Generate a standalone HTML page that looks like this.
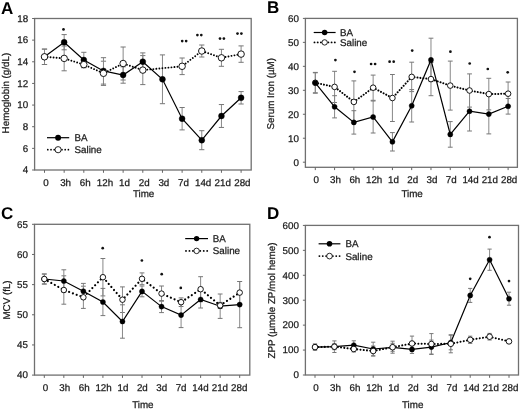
<!DOCTYPE html>
<html><head><meta charset="utf-8"><style>
html,body{margin:0;padding:0;background:#fff;width:520px;height:410px;overflow:hidden}
svg{display:block;text-rendering:geometricPrecision;filter:grayscale(1) blur(0.2px)}
.t{font-family:"Liberation Sans", sans-serif;font-size:9.8px;fill:#1a1a1a;stroke:#1a1a1a;stroke-width:0.25px}
.s{font-family:"Liberation Sans", sans-serif;font-size:10px;fill:#1a1a1a}
.L{font-family:"Liberation Sans", sans-serif;font-size:17px;font-weight:bold;fill:#000}
</style></head><body>
<svg width="520" height="410" viewBox="0 0 520 410">
<rect x="34.6" y="18.5" width="216.6" height="151.5" fill="none" stroke="#707070" stroke-width="1.3"/>
<line x1="32.1" y1="170.0" x2="34.6" y2="170.0" stroke="#666" stroke-width="1"/>
<text x="28.1" y="173.3" text-anchor="end" class="t">4</text>
<line x1="32.1" y1="148.36" x2="34.6" y2="148.36" stroke="#666" stroke-width="1"/>
<text x="28.1" y="151.66" text-anchor="end" class="t">6</text>
<line x1="32.1" y1="126.71" x2="34.6" y2="126.71" stroke="#666" stroke-width="1"/>
<text x="28.1" y="130.01" text-anchor="end" class="t">8</text>
<line x1="32.1" y1="105.07" x2="34.6" y2="105.07" stroke="#666" stroke-width="1"/>
<text x="28.1" y="108.37" text-anchor="end" class="t">10</text>
<line x1="32.1" y1="83.43" x2="34.6" y2="83.43" stroke="#666" stroke-width="1"/>
<text x="28.1" y="86.73" text-anchor="end" class="t">12</text>
<line x1="32.1" y1="61.79" x2="34.6" y2="61.79" stroke="#666" stroke-width="1"/>
<text x="28.1" y="65.09" text-anchor="end" class="t">14</text>
<line x1="32.1" y1="40.14" x2="34.6" y2="40.14" stroke="#666" stroke-width="1"/>
<text x="28.1" y="43.44" text-anchor="end" class="t">16</text>
<line x1="32.1" y1="18.5" x2="34.6" y2="18.5" stroke="#666" stroke-width="1"/>
<text x="28.1" y="21.8" text-anchor="end" class="t">18</text>
<line x1="44.5" y1="170.0" x2="44.5" y2="172.8" stroke="#666" stroke-width="1"/>
<text x="46.0" y="186.0" text-anchor="middle" class="t">0</text>
<line x1="64.16" y1="170.0" x2="64.16" y2="172.8" stroke="#666" stroke-width="1"/>
<text x="65.64" y="186.0" text-anchor="middle" class="t">3h</text>
<line x1="83.82" y1="170.0" x2="83.82" y2="172.8" stroke="#666" stroke-width="1"/>
<text x="85.28" y="186.0" text-anchor="middle" class="t">6h</text>
<line x1="103.48" y1="170.0" x2="103.48" y2="172.8" stroke="#666" stroke-width="1"/>
<text x="104.92" y="186.0" text-anchor="middle" class="t">12h</text>
<line x1="123.14" y1="170.0" x2="123.14" y2="172.8" stroke="#666" stroke-width="1"/>
<text x="124.56" y="186.0" text-anchor="middle" class="t">1d</text>
<line x1="142.8" y1="170.0" x2="142.8" y2="172.8" stroke="#666" stroke-width="1"/>
<text x="144.2" y="186.0" text-anchor="middle" class="t">2d</text>
<line x1="162.46" y1="170.0" x2="162.46" y2="172.8" stroke="#666" stroke-width="1"/>
<text x="163.84" y="186.0" text-anchor="middle" class="t">3d</text>
<line x1="182.12" y1="170.0" x2="182.12" y2="172.8" stroke="#666" stroke-width="1"/>
<text x="183.48" y="186.0" text-anchor="middle" class="t">7d</text>
<line x1="201.78" y1="170.0" x2="201.78" y2="172.8" stroke="#666" stroke-width="1"/>
<text x="203.12" y="186.0" text-anchor="middle" class="t">14d</text>
<line x1="221.44" y1="170.0" x2="221.44" y2="172.8" stroke="#666" stroke-width="1"/>
<text x="222.76" y="186.0" text-anchor="middle" class="t">21d</text>
<line x1="241.1" y1="170.0" x2="241.1" y2="172.8" stroke="#666" stroke-width="1"/>
<text x="242.4" y="186.0" text-anchor="middle" class="t">28d</text>
<text x="143.6" y="197.2" text-anchor="middle" class="t">Time</text>
<text transform="translate(8.6,93.1) rotate(-90)" text-anchor="middle" class="t">Hemoglobin (g/dL)</text>
<text x="1.0" y="13.5" class="L">A</text>
<rect x="305.4" y="18.4" width="212.0" height="148.9" fill="none" stroke="#707070" stroke-width="1.3"/>
<line x1="302.9" y1="162.2" x2="305.4" y2="162.2" stroke="#666" stroke-width="1"/>
<text x="298.9" y="165.5" text-anchor="end" class="t">0</text>
<line x1="302.9" y1="138.23" x2="305.4" y2="138.23" stroke="#666" stroke-width="1"/>
<text x="298.9" y="141.53" text-anchor="end" class="t">10</text>
<line x1="302.9" y1="114.27" x2="305.4" y2="114.27" stroke="#666" stroke-width="1"/>
<text x="298.9" y="117.57" text-anchor="end" class="t">20</text>
<line x1="302.9" y1="90.3" x2="305.4" y2="90.3" stroke="#666" stroke-width="1"/>
<text x="298.9" y="93.6" text-anchor="end" class="t">30</text>
<line x1="302.9" y1="66.33" x2="305.4" y2="66.33" stroke="#666" stroke-width="1"/>
<text x="298.9" y="69.63" text-anchor="end" class="t">40</text>
<line x1="302.9" y1="42.37" x2="305.4" y2="42.37" stroke="#666" stroke-width="1"/>
<text x="298.9" y="45.67" text-anchor="end" class="t">50</text>
<line x1="302.9" y1="18.4" x2="305.4" y2="18.4" stroke="#666" stroke-width="1"/>
<text x="298.9" y="21.7" text-anchor="end" class="t">60</text>
<line x1="315.3" y1="167.3" x2="315.3" y2="170.1" stroke="#666" stroke-width="1"/>
<text x="316.25" y="183.0" text-anchor="middle" class="t">0</text>
<line x1="334.58" y1="167.3" x2="334.58" y2="170.1" stroke="#666" stroke-width="1"/>
<text x="335.54" y="183.0" text-anchor="middle" class="t">3h</text>
<line x1="353.86" y1="167.3" x2="353.86" y2="170.1" stroke="#666" stroke-width="1"/>
<text x="354.83" y="183.0" text-anchor="middle" class="t">6h</text>
<line x1="373.14" y1="167.3" x2="373.14" y2="170.1" stroke="#666" stroke-width="1"/>
<text x="374.12" y="183.0" text-anchor="middle" class="t">12h</text>
<line x1="392.42" y1="167.3" x2="392.42" y2="170.1" stroke="#666" stroke-width="1"/>
<text x="393.41" y="183.0" text-anchor="middle" class="t">1d</text>
<line x1="411.7" y1="167.3" x2="411.7" y2="170.1" stroke="#666" stroke-width="1"/>
<text x="412.7" y="183.0" text-anchor="middle" class="t">2d</text>
<line x1="430.98" y1="167.3" x2="430.98" y2="170.1" stroke="#666" stroke-width="1"/>
<text x="431.99" y="183.0" text-anchor="middle" class="t">3d</text>
<line x1="450.26" y1="167.3" x2="450.26" y2="170.1" stroke="#666" stroke-width="1"/>
<text x="451.28" y="183.0" text-anchor="middle" class="t">7d</text>
<line x1="469.54" y1="167.3" x2="469.54" y2="170.1" stroke="#666" stroke-width="1"/>
<text x="470.57" y="183.0" text-anchor="middle" class="t">14d</text>
<line x1="488.82" y1="167.3" x2="488.82" y2="170.1" stroke="#666" stroke-width="1"/>
<text x="489.86" y="183.0" text-anchor="middle" class="t">21d</text>
<line x1="508.1" y1="167.3" x2="508.1" y2="170.1" stroke="#666" stroke-width="1"/>
<text x="509.15" y="183.0" text-anchor="middle" class="t">28d</text>
<text x="412.1" y="196.6" text-anchor="middle" class="t">Time</text>
<text transform="translate(273.7,93.8) rotate(-90)" text-anchor="middle" class="t">Serum Iron (µM)</text>
<text x="267.0" y="13.2" class="L">B</text>
<rect x="34.5" y="224.3" width="215.3" height="150.8" fill="none" stroke="#707070" stroke-width="1.3"/>
<line x1="32.0" y1="375.1" x2="34.5" y2="375.1" stroke="#666" stroke-width="1"/>
<text x="28.0" y="378.4" text-anchor="end" class="t">40</text>
<line x1="32.0" y1="344.94" x2="34.5" y2="344.94" stroke="#666" stroke-width="1"/>
<text x="28.0" y="348.24" text-anchor="end" class="t">45</text>
<line x1="32.0" y1="314.78" x2="34.5" y2="314.78" stroke="#666" stroke-width="1"/>
<text x="28.0" y="318.08" text-anchor="end" class="t">50</text>
<line x1="32.0" y1="284.62" x2="34.5" y2="284.62" stroke="#666" stroke-width="1"/>
<text x="28.0" y="287.92" text-anchor="end" class="t">55</text>
<line x1="32.0" y1="254.46" x2="34.5" y2="254.46" stroke="#666" stroke-width="1"/>
<text x="28.0" y="257.76" text-anchor="end" class="t">60</text>
<line x1="32.0" y1="224.3" x2="34.5" y2="224.3" stroke="#666" stroke-width="1"/>
<text x="28.0" y="227.6" text-anchor="end" class="t">65</text>
<line x1="44.3" y1="375.1" x2="44.3" y2="377.9" stroke="#666" stroke-width="1"/>
<text x="45.4" y="391.0" text-anchor="middle" class="t">0</text>
<line x1="63.84" y1="375.1" x2="63.84" y2="377.9" stroke="#666" stroke-width="1"/>
<text x="64.79" y="391.0" text-anchor="middle" class="t">3h</text>
<line x1="83.38" y1="375.1" x2="83.38" y2="377.9" stroke="#666" stroke-width="1"/>
<text x="84.18" y="391.0" text-anchor="middle" class="t">6h</text>
<line x1="102.92" y1="375.1" x2="102.92" y2="377.9" stroke="#666" stroke-width="1"/>
<text x="103.57" y="391.0" text-anchor="middle" class="t">12h</text>
<line x1="122.46" y1="375.1" x2="122.46" y2="377.9" stroke="#666" stroke-width="1"/>
<text x="122.96" y="391.0" text-anchor="middle" class="t">1d</text>
<line x1="142.0" y1="375.1" x2="142.0" y2="377.9" stroke="#666" stroke-width="1"/>
<text x="142.35" y="391.0" text-anchor="middle" class="t">2d</text>
<line x1="161.54" y1="375.1" x2="161.54" y2="377.9" stroke="#666" stroke-width="1"/>
<text x="161.74" y="391.0" text-anchor="middle" class="t">3d</text>
<line x1="181.08" y1="375.1" x2="181.08" y2="377.9" stroke="#666" stroke-width="1"/>
<text x="181.13" y="391.0" text-anchor="middle" class="t">7d</text>
<line x1="200.62" y1="375.1" x2="200.62" y2="377.9" stroke="#666" stroke-width="1"/>
<text x="200.52" y="391.0" text-anchor="middle" class="t">14d</text>
<line x1="220.16" y1="375.1" x2="220.16" y2="377.9" stroke="#666" stroke-width="1"/>
<text x="219.91" y="391.0" text-anchor="middle" class="t">21d</text>
<line x1="239.7" y1="375.1" x2="239.7" y2="377.9" stroke="#666" stroke-width="1"/>
<text x="239.3" y="391.0" text-anchor="middle" class="t">28d</text>
<text x="142.85" y="408.4" text-anchor="middle" class="t">Time</text>
<text transform="translate(10.0,300.0) rotate(-90)" text-anchor="middle" class="t">MCV (fL)</text>
<text x="1.1" y="218.5" class="L">C</text>
<rect x="305.4" y="225.4" width="213.1" height="149.6" fill="none" stroke="#707070" stroke-width="1.3"/>
<line x1="302.9" y1="375.0" x2="305.4" y2="375.0" stroke="#666" stroke-width="1"/>
<text x="298.9" y="378.3" text-anchor="end" class="t">0</text>
<line x1="302.9" y1="350.07" x2="305.4" y2="350.07" stroke="#666" stroke-width="1"/>
<text x="298.9" y="353.37" text-anchor="end" class="t">100</text>
<line x1="302.9" y1="325.14" x2="305.4" y2="325.14" stroke="#666" stroke-width="1"/>
<text x="298.9" y="328.44" text-anchor="end" class="t">200</text>
<line x1="302.9" y1="300.21" x2="305.4" y2="300.21" stroke="#666" stroke-width="1"/>
<text x="298.9" y="303.51" text-anchor="end" class="t">300</text>
<line x1="302.9" y1="275.28" x2="305.4" y2="275.28" stroke="#666" stroke-width="1"/>
<text x="298.9" y="278.58" text-anchor="end" class="t">400</text>
<line x1="302.9" y1="250.35" x2="305.4" y2="250.35" stroke="#666" stroke-width="1"/>
<text x="298.9" y="253.65" text-anchor="end" class="t">500</text>
<line x1="302.9" y1="225.42" x2="305.4" y2="225.42" stroke="#666" stroke-width="1"/>
<text x="298.9" y="228.72" text-anchor="end" class="t">600</text>
<line x1="315.0" y1="375.0" x2="315.0" y2="377.8" stroke="#666" stroke-width="1"/>
<text x="316.1" y="391.0" text-anchor="middle" class="t">0</text>
<line x1="334.4" y1="375.0" x2="334.4" y2="377.8" stroke="#666" stroke-width="1"/>
<text x="335.51" y="391.0" text-anchor="middle" class="t">3h</text>
<line x1="353.8" y1="375.0" x2="353.8" y2="377.8" stroke="#666" stroke-width="1"/>
<text x="354.92" y="391.0" text-anchor="middle" class="t">6h</text>
<line x1="373.2" y1="375.0" x2="373.2" y2="377.8" stroke="#666" stroke-width="1"/>
<text x="374.33" y="391.0" text-anchor="middle" class="t">12h</text>
<line x1="392.6" y1="375.0" x2="392.6" y2="377.8" stroke="#666" stroke-width="1"/>
<text x="393.74" y="391.0" text-anchor="middle" class="t">1d</text>
<line x1="412.0" y1="375.0" x2="412.0" y2="377.8" stroke="#666" stroke-width="1"/>
<text x="413.15" y="391.0" text-anchor="middle" class="t">2d</text>
<line x1="431.4" y1="375.0" x2="431.4" y2="377.8" stroke="#666" stroke-width="1"/>
<text x="432.56" y="391.0" text-anchor="middle" class="t">3d</text>
<line x1="450.8" y1="375.0" x2="450.8" y2="377.8" stroke="#666" stroke-width="1"/>
<text x="451.97" y="391.0" text-anchor="middle" class="t">7d</text>
<line x1="470.2" y1="375.0" x2="470.2" y2="377.8" stroke="#666" stroke-width="1"/>
<text x="471.38" y="391.0" text-anchor="middle" class="t">14d</text>
<line x1="489.6" y1="375.0" x2="489.6" y2="377.8" stroke="#666" stroke-width="1"/>
<text x="490.79" y="391.0" text-anchor="middle" class="t">21d</text>
<line x1="509.0" y1="375.0" x2="509.0" y2="377.8" stroke="#666" stroke-width="1"/>
<text x="510.2" y="391.0" text-anchor="middle" class="t">28d</text>
<text x="412.65" y="408.2" text-anchor="middle" class="t">Time</text>
<text transform="translate(275.0,300.6) rotate(-90)" text-anchor="middle" class="t">ZPP (µmole ZP/mol heme)</text>
<text x="267.1" y="218.7" class="L">D</text>
<line x1="44.5" y1="49.1" x2="44.5" y2="64.5" stroke="#888" stroke-width="1"/>
<line x1="41.9" y1="49.1" x2="47.1" y2="49.1" stroke="#777" stroke-width="1"/>
<line x1="41.9" y1="64.5" x2="47.1" y2="64.5" stroke="#777" stroke-width="1"/>
<line x1="64.16" y1="46.0" x2="64.16" y2="70.8" stroke="#888" stroke-width="1"/>
<line x1="61.56" y1="46.0" x2="66.76" y2="46.0" stroke="#777" stroke-width="1"/>
<line x1="61.56" y1="70.8" x2="66.76" y2="70.8" stroke="#777" stroke-width="1"/>
<line x1="83.82" y1="61.6" x2="83.82" y2="67.6" stroke="#888" stroke-width="1"/>
<line x1="81.22" y1="61.6" x2="86.42" y2="61.6" stroke="#777" stroke-width="1"/>
<line x1="81.22" y1="67.6" x2="86.42" y2="67.6" stroke="#777" stroke-width="1"/>
<line x1="103.48" y1="61.2" x2="103.48" y2="85.4" stroke="#888" stroke-width="1"/>
<line x1="100.88" y1="61.2" x2="106.08" y2="61.2" stroke="#777" stroke-width="1"/>
<line x1="100.88" y1="85.4" x2="106.08" y2="85.4" stroke="#777" stroke-width="1"/>
<line x1="123.14" y1="47.0" x2="123.14" y2="80.0" stroke="#888" stroke-width="1"/>
<line x1="120.54" y1="47.0" x2="125.74" y2="47.0" stroke="#777" stroke-width="1"/>
<line x1="120.54" y1="80.0" x2="125.74" y2="80.0" stroke="#777" stroke-width="1"/>
<line x1="142.8" y1="55.6" x2="142.8" y2="84.6" stroke="#888" stroke-width="1"/>
<line x1="140.2" y1="55.6" x2="145.4" y2="55.6" stroke="#777" stroke-width="1"/>
<line x1="140.2" y1="84.6" x2="145.4" y2="84.6" stroke="#777" stroke-width="1"/>
<line x1="182.12" y1="58.0" x2="182.12" y2="74.6" stroke="#888" stroke-width="1"/>
<line x1="179.52" y1="58.0" x2="184.72" y2="58.0" stroke="#777" stroke-width="1"/>
<line x1="179.52" y1="74.6" x2="184.72" y2="74.6" stroke="#777" stroke-width="1"/>
<line x1="201.78" y1="45" x2="201.78" y2="57" stroke="#888" stroke-width="1"/>
<line x1="199.18" y1="45" x2="204.38" y2="45" stroke="#777" stroke-width="1"/>
<line x1="199.18" y1="57" x2="204.38" y2="57" stroke="#777" stroke-width="1"/>
<line x1="221.44" y1="49.3" x2="221.44" y2="66.3" stroke="#888" stroke-width="1"/>
<line x1="218.84" y1="49.3" x2="224.04" y2="49.3" stroke="#777" stroke-width="1"/>
<line x1="218.84" y1="66.3" x2="224.04" y2="66.3" stroke="#777" stroke-width="1"/>
<line x1="241.1" y1="45.9" x2="241.1" y2="62.3" stroke="#888" stroke-width="1"/>
<line x1="238.5" y1="45.9" x2="243.7" y2="45.9" stroke="#777" stroke-width="1"/>
<line x1="238.5" y1="62.3" x2="243.7" y2="62.3" stroke="#777" stroke-width="1"/>
<line x1="44.5" y1="49.1" x2="44.5" y2="64.5" stroke="#888" stroke-width="1"/>
<line x1="41.9" y1="49.1" x2="47.1" y2="49.1" stroke="#777" stroke-width="1"/>
<line x1="41.9" y1="64.5" x2="47.1" y2="64.5" stroke="#777" stroke-width="1"/>
<line x1="64.16" y1="34.6" x2="64.16" y2="49.8" stroke="#888" stroke-width="1"/>
<line x1="61.56" y1="34.6" x2="66.76" y2="34.6" stroke="#777" stroke-width="1"/>
<line x1="61.56" y1="49.8" x2="66.76" y2="49.8" stroke="#777" stroke-width="1"/>
<line x1="83.82" y1="52.3" x2="83.82" y2="67.7" stroke="#888" stroke-width="1"/>
<line x1="81.22" y1="52.3" x2="86.42" y2="52.3" stroke="#777" stroke-width="1"/>
<line x1="81.22" y1="67.7" x2="86.42" y2="67.7" stroke="#777" stroke-width="1"/>
<line x1="103.48" y1="57.7" x2="103.48" y2="84.1" stroke="#888" stroke-width="1"/>
<line x1="100.88" y1="57.7" x2="106.08" y2="57.7" stroke="#777" stroke-width="1"/>
<line x1="100.88" y1="84.1" x2="106.08" y2="84.1" stroke="#777" stroke-width="1"/>
<line x1="123.14" y1="66.8" x2="123.14" y2="83.2" stroke="#888" stroke-width="1"/>
<line x1="120.54" y1="66.8" x2="125.74" y2="66.8" stroke="#777" stroke-width="1"/>
<line x1="120.54" y1="83.2" x2="125.74" y2="83.2" stroke="#777" stroke-width="1"/>
<line x1="142.8" y1="52.9" x2="142.8" y2="70.5" stroke="#888" stroke-width="1"/>
<line x1="140.2" y1="52.9" x2="145.4" y2="52.9" stroke="#777" stroke-width="1"/>
<line x1="140.2" y1="70.5" x2="145.4" y2="70.5" stroke="#777" stroke-width="1"/>
<line x1="162.46" y1="54.9" x2="162.46" y2="103.7" stroke="#888" stroke-width="1"/>
<line x1="159.86" y1="54.9" x2="165.06" y2="54.9" stroke="#777" stroke-width="1"/>
<line x1="159.86" y1="103.7" x2="165.06" y2="103.7" stroke="#777" stroke-width="1"/>
<line x1="182.12" y1="107.5" x2="182.12" y2="129.9" stroke="#888" stroke-width="1"/>
<line x1="179.52" y1="107.5" x2="184.72" y2="107.5" stroke="#777" stroke-width="1"/>
<line x1="179.52" y1="129.9" x2="184.72" y2="129.9" stroke="#777" stroke-width="1"/>
<line x1="201.78" y1="130.7" x2="201.78" y2="149.7" stroke="#888" stroke-width="1"/>
<line x1="199.18" y1="130.7" x2="204.38" y2="130.7" stroke="#777" stroke-width="1"/>
<line x1="199.18" y1="149.7" x2="204.38" y2="149.7" stroke="#777" stroke-width="1"/>
<line x1="221.44" y1="104.55" x2="221.44" y2="127.45" stroke="#888" stroke-width="1"/>
<line x1="218.84" y1="104.55" x2="224.04" y2="104.55" stroke="#777" stroke-width="1"/>
<line x1="218.84" y1="127.45" x2="224.04" y2="127.45" stroke="#777" stroke-width="1"/>
<line x1="241.1" y1="91.6" x2="241.1" y2="104.0" stroke="#888" stroke-width="1"/>
<line x1="238.5" y1="91.6" x2="243.7" y2="91.6" stroke="#777" stroke-width="1"/>
<line x1="238.5" y1="104.0" x2="243.7" y2="104.0" stroke="#777" stroke-width="1"/>
<polyline points="44.5,56.8 64.16,42.2 83.82,60.0 103.48,70.9 123.14,75.0 142.8,61.7 162.46,79.3 182.12,118.7 201.78,140.2 221.44,116 241.1,97.8" fill="none" stroke="#000" stroke-width="1.2"/>
<circle cx="44.5" cy="56.8" r="2.95" fill="#000" stroke="#000" stroke-width="0.4"/>
<circle cx="64.16" cy="42.2" r="2.95" fill="#000" stroke="#000" stroke-width="0.4"/>
<circle cx="83.82" cy="60.0" r="2.95" fill="#000" stroke="#000" stroke-width="0.4"/>
<circle cx="103.48" cy="70.9" r="2.95" fill="#000" stroke="#000" stroke-width="0.4"/>
<circle cx="123.14" cy="75.0" r="2.95" fill="#000" stroke="#000" stroke-width="0.4"/>
<circle cx="142.8" cy="61.7" r="2.95" fill="#000" stroke="#000" stroke-width="0.4"/>
<circle cx="162.46" cy="79.3" r="2.95" fill="#000" stroke="#000" stroke-width="0.4"/>
<circle cx="182.12" cy="118.7" r="2.95" fill="#000" stroke="#000" stroke-width="0.4"/>
<circle cx="201.78" cy="140.2" r="2.95" fill="#000" stroke="#000" stroke-width="0.4"/>
<circle cx="221.44" cy="116" r="2.95" fill="#000" stroke="#000" stroke-width="0.4"/>
<circle cx="241.1" cy="97.8" r="2.95" fill="#000" stroke="#000" stroke-width="0.4"/>
<polyline points="44.5,56.8 64.16,58.4 83.82,64.6 103.48,73.3 123.14,63.5 142.8,70.1 182.12,66.3 201.78,51 221.44,57.8 241.1,54.1" fill="none" stroke="#000" stroke-width="1.9" stroke-dasharray="0.01 3.02" stroke-linecap="round"/>
<circle cx="44.5" cy="56.8" r="3.25" fill="#fff" stroke="#000" stroke-width="0.9"/>
<circle cx="64.16" cy="58.4" r="3.25" fill="#fff" stroke="#000" stroke-width="0.9"/>
<circle cx="83.82" cy="64.6" r="3.25" fill="#fff" stroke="#000" stroke-width="0.9"/>
<circle cx="103.48" cy="73.3" r="3.25" fill="#fff" stroke="#000" stroke-width="0.9"/>
<circle cx="123.14" cy="63.5" r="3.25" fill="#fff" stroke="#000" stroke-width="0.9"/>
<circle cx="142.8" cy="70.1" r="3.25" fill="#fff" stroke="#000" stroke-width="0.9"/>
<circle cx="182.12" cy="66.3" r="3.25" fill="#fff" stroke="#000" stroke-width="0.9"/>
<circle cx="201.78" cy="51" r="3.25" fill="#fff" stroke="#000" stroke-width="0.9"/>
<circle cx="221.44" cy="57.8" r="3.25" fill="#fff" stroke="#000" stroke-width="0.9"/>
<circle cx="241.1" cy="54.1" r="3.25" fill="#fff" stroke="#000" stroke-width="0.9"/>
<circle cx="63.5" cy="29.4" r="1.35" fill="#111"/>
<circle cx="182.2" cy="41.1" r="1.35" fill="#111"/>
<circle cx="186.15" cy="41.1" r="1.35" fill="#111"/>
<circle cx="197.4" cy="35.1" r="1.35" fill="#111"/>
<circle cx="201.3" cy="35.1" r="1.35" fill="#111"/>
<circle cx="220" cy="38.6" r="1.35" fill="#111"/>
<circle cx="223.9" cy="38.6" r="1.35" fill="#111"/>
<circle cx="237.5" cy="33.6" r="1.35" fill="#111"/>
<circle cx="241.4" cy="33.6" r="1.35" fill="#111"/>
<line x1="47" y1="137.7" x2="69.2" y2="137.7" stroke="#000" stroke-width="1.2"/>
<circle cx="58.1" cy="137.7" r="2.95" fill="#000"/>
<text x="74.5" y="141.1" class="t">BA</text>
<line x1="47.8" y1="149.7" x2="58.1" y2="149.7" stroke="#000" stroke-width="1.7" stroke-dasharray="0.01 3.2" stroke-linecap="round"/>
<line x1="68.4" y1="149.7" x2="58.1" y2="149.7" stroke="#000" stroke-width="1.7" stroke-dasharray="0.01 3.2" stroke-linecap="round"/>
<circle cx="58.1" cy="149.7" r="3.1" fill="#fff" stroke="#000" stroke-width="0.85"/>
<text x="74.5" y="153.1" class="t">Saline</text>
<line x1="315.3" y1="72.8" x2="315.3" y2="92.8" stroke="#888" stroke-width="1"/>
<line x1="312.9" y1="72.8" x2="317.7" y2="72.8" stroke="#777" stroke-width="1"/>
<line x1="312.9" y1="92.8" x2="317.7" y2="92.8" stroke="#777" stroke-width="1"/>
<line x1="334.58" y1="71.3" x2="334.58" y2="102.5" stroke="#888" stroke-width="1"/>
<line x1="332.18" y1="71.3" x2="336.98" y2="71.3" stroke="#777" stroke-width="1"/>
<line x1="332.18" y1="102.5" x2="336.98" y2="102.5" stroke="#777" stroke-width="1"/>
<line x1="353.86" y1="80.9" x2="353.86" y2="122.9" stroke="#888" stroke-width="1"/>
<line x1="351.46" y1="80.9" x2="356.26" y2="80.9" stroke="#777" stroke-width="1"/>
<line x1="351.46" y1="122.9" x2="356.26" y2="122.9" stroke="#777" stroke-width="1"/>
<line x1="373.14" y1="75.1" x2="373.14" y2="100.3" stroke="#888" stroke-width="1"/>
<line x1="370.74" y1="75.1" x2="375.54" y2="75.1" stroke="#777" stroke-width="1"/>
<line x1="370.74" y1="100.3" x2="375.54" y2="100.3" stroke="#777" stroke-width="1"/>
<line x1="392.42" y1="74.5" x2="392.42" y2="121.5" stroke="#888" stroke-width="1"/>
<line x1="390.02" y1="74.5" x2="394.82" y2="74.5" stroke="#777" stroke-width="1"/>
<line x1="390.02" y1="121.5" x2="394.82" y2="121.5" stroke="#777" stroke-width="1"/>
<line x1="411.7" y1="62.2" x2="411.7" y2="91.6" stroke="#888" stroke-width="1"/>
<line x1="409.3" y1="62.2" x2="414.1" y2="62.2" stroke="#777" stroke-width="1"/>
<line x1="409.3" y1="91.6" x2="414.1" y2="91.6" stroke="#777" stroke-width="1"/>
<line x1="430.98" y1="62.5" x2="430.98" y2="95.7" stroke="#888" stroke-width="1"/>
<line x1="428.58" y1="62.5" x2="433.38" y2="62.5" stroke="#777" stroke-width="1"/>
<line x1="428.58" y1="95.7" x2="433.38" y2="95.7" stroke="#777" stroke-width="1"/>
<line x1="450.26" y1="61.1" x2="450.26" y2="110.1" stroke="#888" stroke-width="1"/>
<line x1="447.86" y1="61.1" x2="452.66" y2="61.1" stroke="#777" stroke-width="1"/>
<line x1="447.86" y1="110.1" x2="452.66" y2="110.1" stroke="#777" stroke-width="1"/>
<line x1="469.54" y1="73.9" x2="469.54" y2="107.1" stroke="#888" stroke-width="1"/>
<line x1="467.14" y1="73.9" x2="471.94" y2="73.9" stroke="#777" stroke-width="1"/>
<line x1="467.14" y1="107.1" x2="471.94" y2="107.1" stroke="#777" stroke-width="1"/>
<line x1="488.82" y1="78.3" x2="488.82" y2="109.9" stroke="#888" stroke-width="1"/>
<line x1="486.42" y1="78.3" x2="491.22" y2="78.3" stroke="#777" stroke-width="1"/>
<line x1="486.42" y1="109.9" x2="491.22" y2="109.9" stroke="#777" stroke-width="1"/>
<line x1="508.1" y1="82.0" x2="508.1" y2="105.4" stroke="#888" stroke-width="1"/>
<line x1="505.7" y1="82.0" x2="510.5" y2="82.0" stroke="#777" stroke-width="1"/>
<line x1="505.7" y1="105.4" x2="510.5" y2="105.4" stroke="#777" stroke-width="1"/>
<line x1="315.3" y1="72.4" x2="315.3" y2="93.2" stroke="#888" stroke-width="1"/>
<line x1="312.9" y1="72.4" x2="317.7" y2="72.4" stroke="#777" stroke-width="1"/>
<line x1="312.9" y1="93.2" x2="317.7" y2="93.2" stroke="#777" stroke-width="1"/>
<line x1="334.58" y1="95.7" x2="334.58" y2="117.9" stroke="#888" stroke-width="1"/>
<line x1="332.18" y1="95.7" x2="336.98" y2="95.7" stroke="#777" stroke-width="1"/>
<line x1="332.18" y1="117.9" x2="336.98" y2="117.9" stroke="#777" stroke-width="1"/>
<line x1="353.86" y1="110.7" x2="353.86" y2="134.1" stroke="#888" stroke-width="1"/>
<line x1="351.46" y1="110.7" x2="356.26" y2="110.7" stroke="#777" stroke-width="1"/>
<line x1="351.46" y1="134.1" x2="356.26" y2="134.1" stroke="#777" stroke-width="1"/>
<line x1="373.14" y1="101" x2="373.14" y2="133" stroke="#888" stroke-width="1"/>
<line x1="370.74" y1="101" x2="375.54" y2="101" stroke="#777" stroke-width="1"/>
<line x1="370.74" y1="133" x2="375.54" y2="133" stroke="#777" stroke-width="1"/>
<line x1="392.42" y1="132.6" x2="392.42" y2="151.0" stroke="#888" stroke-width="1"/>
<line x1="390.02" y1="132.6" x2="394.82" y2="132.6" stroke="#777" stroke-width="1"/>
<line x1="390.02" y1="151.0" x2="394.82" y2="151.0" stroke="#777" stroke-width="1"/>
<line x1="411.7" y1="89.6" x2="411.7" y2="122.0" stroke="#888" stroke-width="1"/>
<line x1="409.3" y1="89.6" x2="414.1" y2="89.6" stroke="#777" stroke-width="1"/>
<line x1="409.3" y1="122.0" x2="414.1" y2="122.0" stroke="#777" stroke-width="1"/>
<line x1="430.98" y1="38.2" x2="430.98" y2="81.6" stroke="#888" stroke-width="1"/>
<line x1="428.58" y1="38.2" x2="433.38" y2="38.2" stroke="#777" stroke-width="1"/>
<line x1="428.58" y1="81.6" x2="433.38" y2="81.6" stroke="#777" stroke-width="1"/>
<line x1="450.26" y1="121.6" x2="450.26" y2="147.2" stroke="#888" stroke-width="1"/>
<line x1="447.86" y1="121.6" x2="452.66" y2="121.6" stroke="#777" stroke-width="1"/>
<line x1="447.86" y1="147.2" x2="452.66" y2="147.2" stroke="#777" stroke-width="1"/>
<line x1="469.54" y1="91.4" x2="469.54" y2="131.0" stroke="#888" stroke-width="1"/>
<line x1="467.14" y1="91.4" x2="471.94" y2="91.4" stroke="#777" stroke-width="1"/>
<line x1="467.14" y1="131.0" x2="471.94" y2="131.0" stroke="#777" stroke-width="1"/>
<line x1="488.82" y1="94.3" x2="488.82" y2="133.9" stroke="#888" stroke-width="1"/>
<line x1="486.42" y1="94.3" x2="491.22" y2="94.3" stroke="#777" stroke-width="1"/>
<line x1="486.42" y1="133.9" x2="491.22" y2="133.9" stroke="#777" stroke-width="1"/>
<line x1="508.1" y1="98.5" x2="508.1" y2="114.1" stroke="#888" stroke-width="1"/>
<line x1="505.7" y1="98.5" x2="510.5" y2="98.5" stroke="#777" stroke-width="1"/>
<line x1="505.7" y1="114.1" x2="510.5" y2="114.1" stroke="#777" stroke-width="1"/>
<polyline points="315.3,82.8 334.58,86.9 353.86,101.9 373.14,87.7 392.42,98 411.7,76.9 430.98,79.1 450.26,85.6 469.54,90.5 488.82,94.1 508.1,93.7" fill="none" stroke="#000" stroke-width="2.05" stroke-dasharray="0.01 2.95" stroke-linecap="round"/>
<circle cx="315.3" cy="82.8" r="2.8" fill="#fff" stroke="#000" stroke-width="0.9"/>
<circle cx="334.58" cy="86.9" r="2.8" fill="#fff" stroke="#000" stroke-width="0.9"/>
<circle cx="353.86" cy="101.9" r="2.8" fill="#fff" stroke="#000" stroke-width="0.9"/>
<circle cx="373.14" cy="87.7" r="2.8" fill="#fff" stroke="#000" stroke-width="0.9"/>
<circle cx="392.42" cy="98" r="2.8" fill="#fff" stroke="#000" stroke-width="0.9"/>
<circle cx="411.7" cy="76.9" r="2.8" fill="#fff" stroke="#000" stroke-width="0.9"/>
<circle cx="430.98" cy="79.1" r="2.8" fill="#fff" stroke="#000" stroke-width="0.9"/>
<circle cx="450.26" cy="85.6" r="2.8" fill="#fff" stroke="#000" stroke-width="0.9"/>
<circle cx="469.54" cy="90.5" r="2.8" fill="#fff" stroke="#000" stroke-width="0.9"/>
<circle cx="488.82" cy="94.1" r="2.8" fill="#fff" stroke="#000" stroke-width="0.9"/>
<circle cx="508.1" cy="93.7" r="2.8" fill="#fff" stroke="#000" stroke-width="0.9"/>
<polyline points="315.3,82.8 334.58,106.8 353.86,122.4 373.14,117 392.42,141.8 411.7,105.8 430.98,59.9 450.26,134.4 469.54,111.2 488.82,114.1 508.1,106.3" fill="none" stroke="#000" stroke-width="1.2"/>
<circle cx="315.3" cy="82.8" r="2.55" fill="#000" stroke="#000" stroke-width="0.4"/>
<circle cx="334.58" cy="106.8" r="2.55" fill="#000" stroke="#000" stroke-width="0.4"/>
<circle cx="353.86" cy="122.4" r="2.55" fill="#000" stroke="#000" stroke-width="0.4"/>
<circle cx="373.14" cy="117" r="2.55" fill="#000" stroke="#000" stroke-width="0.4"/>
<circle cx="392.42" cy="141.8" r="2.55" fill="#000" stroke="#000" stroke-width="0.4"/>
<circle cx="411.7" cy="105.8" r="2.55" fill="#000" stroke="#000" stroke-width="0.4"/>
<circle cx="430.98" cy="59.9" r="2.55" fill="#000" stroke="#000" stroke-width="0.4"/>
<circle cx="450.26" cy="134.4" r="2.55" fill="#000" stroke="#000" stroke-width="0.4"/>
<circle cx="469.54" cy="111.2" r="2.55" fill="#000" stroke="#000" stroke-width="0.4"/>
<circle cx="488.82" cy="114.1" r="2.55" fill="#000" stroke="#000" stroke-width="0.4"/>
<circle cx="508.1" cy="106.3" r="2.55" fill="#000" stroke="#000" stroke-width="0.4"/>
<circle cx="335.4" cy="60.1" r="1.35" fill="#111"/>
<circle cx="354.5" cy="71.8" r="1.35" fill="#111"/>
<circle cx="371.1" cy="64" r="1.35" fill="#111"/>
<circle cx="375.1" cy="64" r="1.35" fill="#111"/>
<circle cx="389.6" cy="61.7" r="1.35" fill="#111"/>
<circle cx="393.7" cy="61.7" r="1.35" fill="#111"/>
<circle cx="412.2" cy="50.6" r="1.35" fill="#111"/>
<circle cx="450.4" cy="51.7" r="1.35" fill="#111"/>
<circle cx="469.7" cy="63.5" r="1.35" fill="#111"/>
<circle cx="487.8" cy="69" r="1.35" fill="#111"/>
<circle cx="507.7" cy="72.3" r="1.35" fill="#111"/>
<line x1="313.7" y1="32.5" x2="335.6" y2="32.5" stroke="#000" stroke-width="1.2"/>
<circle cx="324.65" cy="32.5" r="2.75" fill="#000"/>
<text x="340.0" y="35.9" class="t">BA</text>
<line x1="314.5" y1="42.4" x2="324.65" y2="42.4" stroke="#000" stroke-width="1.9" stroke-dasharray="0.01 3.2" stroke-linecap="round"/>
<line x1="334.8" y1="42.4" x2="324.65" y2="42.4" stroke="#000" stroke-width="1.9" stroke-dasharray="0.01 3.2" stroke-linecap="round"/>
<circle cx="324.65" cy="42.4" r="2.7" fill="#fff" stroke="#000" stroke-width="0.85"/>
<text x="340.0" y="45.8" class="t">Saline</text>
<line x1="44.3" y1="274" x2="44.3" y2="284" stroke="#888" stroke-width="1"/>
<line x1="41.9" y1="274" x2="46.7" y2="274" stroke="#777" stroke-width="1"/>
<line x1="41.9" y1="284" x2="46.7" y2="284" stroke="#777" stroke-width="1"/>
<line x1="63.84" y1="275.8" x2="63.84" y2="304.2" stroke="#888" stroke-width="1"/>
<line x1="61.44" y1="275.8" x2="66.24" y2="275.8" stroke="#777" stroke-width="1"/>
<line x1="61.44" y1="304.2" x2="66.24" y2="304.2" stroke="#777" stroke-width="1"/>
<line x1="83.38" y1="286.2" x2="83.38" y2="308.4" stroke="#888" stroke-width="1"/>
<line x1="80.98" y1="286.2" x2="85.78" y2="286.2" stroke="#777" stroke-width="1"/>
<line x1="80.98" y1="308.4" x2="85.78" y2="308.4" stroke="#777" stroke-width="1"/>
<line x1="102.92" y1="258.5" x2="102.92" y2="295.9" stroke="#888" stroke-width="1"/>
<line x1="100.52" y1="258.5" x2="105.32" y2="258.5" stroke="#777" stroke-width="1"/>
<line x1="100.52" y1="295.9" x2="105.32" y2="295.9" stroke="#777" stroke-width="1"/>
<line x1="122.46" y1="286.9" x2="122.46" y2="312.5" stroke="#888" stroke-width="1"/>
<line x1="120.06" y1="286.9" x2="124.86" y2="286.9" stroke="#777" stroke-width="1"/>
<line x1="120.06" y1="312.5" x2="124.86" y2="312.5" stroke="#777" stroke-width="1"/>
<line x1="142.0" y1="272.9" x2="142.0" y2="284.7" stroke="#888" stroke-width="1"/>
<line x1="139.6" y1="272.9" x2="144.4" y2="272.9" stroke="#777" stroke-width="1"/>
<line x1="139.6" y1="284.7" x2="144.4" y2="284.7" stroke="#777" stroke-width="1"/>
<line x1="161.54" y1="286.0" x2="161.54" y2="301.2" stroke="#888" stroke-width="1"/>
<line x1="159.14" y1="286.0" x2="163.94" y2="286.0" stroke="#777" stroke-width="1"/>
<line x1="159.14" y1="301.2" x2="163.94" y2="301.2" stroke="#777" stroke-width="1"/>
<line x1="181.08" y1="297.9" x2="181.08" y2="306.5" stroke="#888" stroke-width="1"/>
<line x1="178.68" y1="297.9" x2="183.48" y2="297.9" stroke="#777" stroke-width="1"/>
<line x1="178.68" y1="306.5" x2="183.48" y2="306.5" stroke="#777" stroke-width="1"/>
<line x1="200.62" y1="276.7" x2="200.62" y2="301.7" stroke="#888" stroke-width="1"/>
<line x1="198.22" y1="276.7" x2="203.02" y2="276.7" stroke="#777" stroke-width="1"/>
<line x1="198.22" y1="301.7" x2="203.02" y2="301.7" stroke="#777" stroke-width="1"/>
<line x1="220.16" y1="302.4" x2="220.16" y2="308.4" stroke="#888" stroke-width="1"/>
<line x1="217.76" y1="302.4" x2="222.56" y2="302.4" stroke="#777" stroke-width="1"/>
<line x1="217.76" y1="308.4" x2="222.56" y2="308.4" stroke="#777" stroke-width="1"/>
<line x1="239.7" y1="281.5" x2="239.7" y2="303.7" stroke="#888" stroke-width="1"/>
<line x1="237.3" y1="281.5" x2="242.1" y2="281.5" stroke="#777" stroke-width="1"/>
<line x1="237.3" y1="303.7" x2="242.1" y2="303.7" stroke="#777" stroke-width="1"/>
<line x1="44.3" y1="274" x2="44.3" y2="284" stroke="#888" stroke-width="1"/>
<line x1="41.9" y1="274" x2="46.7" y2="274" stroke="#777" stroke-width="1"/>
<line x1="41.9" y1="284" x2="46.7" y2="284" stroke="#777" stroke-width="1"/>
<line x1="63.84" y1="269.8" x2="63.84" y2="292.2" stroke="#888" stroke-width="1"/>
<line x1="61.44" y1="269.8" x2="66.24" y2="269.8" stroke="#777" stroke-width="1"/>
<line x1="61.44" y1="292.2" x2="66.24" y2="292.2" stroke="#777" stroke-width="1"/>
<line x1="83.38" y1="283.4" x2="83.38" y2="299.0" stroke="#888" stroke-width="1"/>
<line x1="80.98" y1="283.4" x2="85.78" y2="283.4" stroke="#777" stroke-width="1"/>
<line x1="80.98" y1="299.0" x2="85.78" y2="299.0" stroke="#777" stroke-width="1"/>
<line x1="102.92" y1="288.4" x2="102.92" y2="315.6" stroke="#888" stroke-width="1"/>
<line x1="100.52" y1="288.4" x2="105.32" y2="288.4" stroke="#777" stroke-width="1"/>
<line x1="100.52" y1="315.6" x2="105.32" y2="315.6" stroke="#777" stroke-width="1"/>
<line x1="122.46" y1="304.8" x2="122.46" y2="338.2" stroke="#888" stroke-width="1"/>
<line x1="120.06" y1="304.8" x2="124.86" y2="304.8" stroke="#777" stroke-width="1"/>
<line x1="120.06" y1="338.2" x2="124.86" y2="338.2" stroke="#777" stroke-width="1"/>
<line x1="142.0" y1="286.0" x2="142.0" y2="296.8" stroke="#888" stroke-width="1"/>
<line x1="139.6" y1="286.0" x2="144.4" y2="286.0" stroke="#777" stroke-width="1"/>
<line x1="139.6" y1="296.8" x2="144.4" y2="296.8" stroke="#777" stroke-width="1"/>
<line x1="161.54" y1="300.6" x2="161.54" y2="312.6" stroke="#888" stroke-width="1"/>
<line x1="159.14" y1="300.6" x2="163.94" y2="300.6" stroke="#777" stroke-width="1"/>
<line x1="159.14" y1="312.6" x2="163.94" y2="312.6" stroke="#777" stroke-width="1"/>
<line x1="181.08" y1="302.6" x2="181.08" y2="327.6" stroke="#888" stroke-width="1"/>
<line x1="178.68" y1="302.6" x2="183.48" y2="302.6" stroke="#777" stroke-width="1"/>
<line x1="178.68" y1="327.6" x2="183.48" y2="327.6" stroke="#777" stroke-width="1"/>
<line x1="200.62" y1="291.0" x2="200.62" y2="308.0" stroke="#888" stroke-width="1"/>
<line x1="198.22" y1="291.0" x2="203.02" y2="291.0" stroke="#777" stroke-width="1"/>
<line x1="198.22" y1="308.0" x2="203.02" y2="308.0" stroke="#777" stroke-width="1"/>
<line x1="220.16" y1="294.0" x2="220.16" y2="318.4" stroke="#888" stroke-width="1"/>
<line x1="217.76" y1="294.0" x2="222.56" y2="294.0" stroke="#777" stroke-width="1"/>
<line x1="217.76" y1="318.4" x2="222.56" y2="318.4" stroke="#777" stroke-width="1"/>
<line x1="239.7" y1="281.5" x2="239.7" y2="327.7" stroke="#888" stroke-width="1"/>
<line x1="237.3" y1="281.5" x2="242.1" y2="281.5" stroke="#777" stroke-width="1"/>
<line x1="237.3" y1="327.7" x2="242.1" y2="327.7" stroke="#777" stroke-width="1"/>
<polyline points="44.3,279 63.84,281 83.38,291.2 102.92,302 122.46,321.5 142.0,291.4 161.54,306.6 181.08,315.1 200.62,299.5 220.16,306.2 239.7,304.6" fill="none" stroke="#000" stroke-width="1.2"/>
<circle cx="44.3" cy="279" r="2.55" fill="#000" stroke="#000" stroke-width="0.4"/>
<circle cx="63.84" cy="281" r="2.55" fill="#000" stroke="#000" stroke-width="0.4"/>
<circle cx="83.38" cy="291.2" r="2.55" fill="#000" stroke="#000" stroke-width="0.4"/>
<circle cx="102.92" cy="302" r="2.55" fill="#000" stroke="#000" stroke-width="0.4"/>
<circle cx="122.46" cy="321.5" r="2.55" fill="#000" stroke="#000" stroke-width="0.4"/>
<circle cx="142.0" cy="291.4" r="2.55" fill="#000" stroke="#000" stroke-width="0.4"/>
<circle cx="161.54" cy="306.6" r="2.55" fill="#000" stroke="#000" stroke-width="0.4"/>
<circle cx="181.08" cy="315.1" r="2.55" fill="#000" stroke="#000" stroke-width="0.4"/>
<circle cx="200.62" cy="299.5" r="2.55" fill="#000" stroke="#000" stroke-width="0.4"/>
<circle cx="220.16" cy="306.2" r="2.55" fill="#000" stroke="#000" stroke-width="0.4"/>
<circle cx="239.7" cy="304.6" r="2.55" fill="#000" stroke="#000" stroke-width="0.4"/>
<polyline points="44.3,279 63.84,290 83.38,297.3 102.92,277.2 122.46,299.7 142.0,278.8 161.54,293.6 181.08,302.2 200.62,289.2 220.16,305.4 239.7,292.6" fill="none" stroke="#000" stroke-width="2.2" stroke-dasharray="0.01 4.0" stroke-linecap="round"/>
<circle cx="44.3" cy="279" r="2.75" fill="#fff" stroke="#000" stroke-width="0.9"/>
<circle cx="63.84" cy="290" r="2.75" fill="#fff" stroke="#000" stroke-width="0.9"/>
<circle cx="83.38" cy="297.3" r="2.75" fill="#fff" stroke="#000" stroke-width="0.9"/>
<circle cx="102.92" cy="277.2" r="2.75" fill="#fff" stroke="#000" stroke-width="0.9"/>
<circle cx="122.46" cy="299.7" r="2.75" fill="#fff" stroke="#000" stroke-width="0.9"/>
<circle cx="142.0" cy="278.8" r="2.75" fill="#fff" stroke="#000" stroke-width="0.9"/>
<circle cx="161.54" cy="293.6" r="2.75" fill="#fff" stroke="#000" stroke-width="0.9"/>
<circle cx="181.08" cy="302.2" r="2.75" fill="#fff" stroke="#000" stroke-width="0.9"/>
<circle cx="200.62" cy="289.2" r="2.75" fill="#fff" stroke="#000" stroke-width="0.9"/>
<circle cx="220.16" cy="305.4" r="2.75" fill="#fff" stroke="#000" stroke-width="0.9"/>
<circle cx="239.7" cy="292.6" r="2.75" fill="#fff" stroke="#000" stroke-width="0.9"/>
<circle cx="102.7" cy="248.2" r="1.35" fill="#111"/>
<circle cx="141.9" cy="260.5" r="1.35" fill="#111"/>
<circle cx="161.7" cy="274.2" r="1.35" fill="#111"/>
<circle cx="180.8" cy="287.9" r="1.35" fill="#111"/>
<line x1="185.2" y1="238.6" x2="208.0" y2="238.6" stroke="#000" stroke-width="1.2"/>
<circle cx="196.6" cy="238.6" r="2.7" fill="#000"/>
<text x="212.8" y="242.0" class="t">BA</text>
<line x1="186.0" y1="250.9" x2="196.6" y2="250.9" stroke="#000" stroke-width="1.9" stroke-dasharray="0.01 3.45" stroke-linecap="round"/>
<line x1="207.2" y1="250.9" x2="196.6" y2="250.9" stroke="#000" stroke-width="1.9" stroke-dasharray="0.01 3.45" stroke-linecap="round"/>
<circle cx="196.6" cy="250.9" r="2.75" fill="#fff" stroke="#000" stroke-width="0.85"/>
<text x="212.8" y="254.3" class="t">Saline</text>
<line x1="315.0" y1="344.1" x2="315.0" y2="350.1" stroke="#888" stroke-width="1"/>
<line x1="312.9" y1="344.1" x2="317.1" y2="344.1" stroke="#777" stroke-width="1"/>
<line x1="312.9" y1="350.1" x2="317.1" y2="350.1" stroke="#777" stroke-width="1"/>
<line x1="334.4" y1="340.9" x2="334.4" y2="352.5" stroke="#888" stroke-width="1"/>
<line x1="332.3" y1="340.9" x2="336.5" y2="340.9" stroke="#777" stroke-width="1"/>
<line x1="332.3" y1="352.5" x2="336.5" y2="352.5" stroke="#777" stroke-width="1"/>
<line x1="353.8" y1="346" x2="353.8" y2="352" stroke="#888" stroke-width="1"/>
<line x1="351.7" y1="346" x2="355.9" y2="346" stroke="#777" stroke-width="1"/>
<line x1="351.7" y1="352" x2="355.9" y2="352" stroke="#777" stroke-width="1"/>
<line x1="373.2" y1="346" x2="373.2" y2="356" stroke="#888" stroke-width="1"/>
<line x1="371.1" y1="346" x2="375.3" y2="346" stroke="#777" stroke-width="1"/>
<line x1="371.1" y1="356" x2="375.3" y2="356" stroke="#777" stroke-width="1"/>
<line x1="392.6" y1="341.2" x2="392.6" y2="353.2" stroke="#888" stroke-width="1"/>
<line x1="390.5" y1="341.2" x2="394.7" y2="341.2" stroke="#777" stroke-width="1"/>
<line x1="390.5" y1="353.2" x2="394.7" y2="353.2" stroke="#777" stroke-width="1"/>
<line x1="412.0" y1="336.1" x2="412.0" y2="350.9" stroke="#888" stroke-width="1"/>
<line x1="409.9" y1="336.1" x2="414.1" y2="336.1" stroke="#777" stroke-width="1"/>
<line x1="409.9" y1="350.9" x2="414.1" y2="350.9" stroke="#777" stroke-width="1"/>
<line x1="431.4" y1="333.6" x2="431.4" y2="354.4" stroke="#888" stroke-width="1"/>
<line x1="429.3" y1="333.6" x2="433.5" y2="333.6" stroke="#777" stroke-width="1"/>
<line x1="429.3" y1="354.4" x2="433.5" y2="354.4" stroke="#777" stroke-width="1"/>
<line x1="450.8" y1="334.8" x2="450.8" y2="352.8" stroke="#888" stroke-width="1"/>
<line x1="448.7" y1="334.8" x2="452.9" y2="334.8" stroke="#777" stroke-width="1"/>
<line x1="448.7" y1="352.8" x2="452.9" y2="352.8" stroke="#777" stroke-width="1"/>
<line x1="470.2" y1="336.2" x2="470.2" y2="343.4" stroke="#888" stroke-width="1"/>
<line x1="468.1" y1="336.2" x2="472.3" y2="336.2" stroke="#777" stroke-width="1"/>
<line x1="468.1" y1="343.4" x2="472.3" y2="343.4" stroke="#777" stroke-width="1"/>
<line x1="489.6" y1="333.4" x2="489.6" y2="340.0" stroke="#888" stroke-width="1"/>
<line x1="487.5" y1="333.4" x2="491.7" y2="333.4" stroke="#777" stroke-width="1"/>
<line x1="487.5" y1="340.0" x2="491.7" y2="340.0" stroke="#777" stroke-width="1"/>
<line x1="509.0" y1="339.4" x2="509.0" y2="343.4" stroke="#888" stroke-width="1"/>
<line x1="506.9" y1="339.4" x2="511.1" y2="339.4" stroke="#777" stroke-width="1"/>
<line x1="506.9" y1="343.4" x2="511.1" y2="343.4" stroke="#777" stroke-width="1"/>
<line x1="315.0" y1="344.1" x2="315.0" y2="350.1" stroke="#888" stroke-width="1"/>
<line x1="312.9" y1="344.1" x2="317.1" y2="344.1" stroke="#777" stroke-width="1"/>
<line x1="312.9" y1="350.1" x2="317.1" y2="350.1" stroke="#777" stroke-width="1"/>
<line x1="334.4" y1="343.7" x2="334.4" y2="349.7" stroke="#888" stroke-width="1"/>
<line x1="332.3" y1="343.7" x2="336.5" y2="343.7" stroke="#777" stroke-width="1"/>
<line x1="332.3" y1="349.7" x2="336.5" y2="349.7" stroke="#777" stroke-width="1"/>
<line x1="353.8" y1="340.8" x2="353.8" y2="349.6" stroke="#888" stroke-width="1"/>
<line x1="351.7" y1="340.8" x2="355.9" y2="340.8" stroke="#777" stroke-width="1"/>
<line x1="351.7" y1="349.6" x2="355.9" y2="349.6" stroke="#777" stroke-width="1"/>
<line x1="373.2" y1="342.2" x2="373.2" y2="355.8" stroke="#888" stroke-width="1"/>
<line x1="371.1" y1="342.2" x2="375.3" y2="342.2" stroke="#777" stroke-width="1"/>
<line x1="371.1" y1="355.8" x2="375.3" y2="355.8" stroke="#777" stroke-width="1"/>
<line x1="392.6" y1="343.3" x2="392.6" y2="351.3" stroke="#888" stroke-width="1"/>
<line x1="390.5" y1="343.3" x2="394.7" y2="343.3" stroke="#777" stroke-width="1"/>
<line x1="390.5" y1="351.3" x2="394.7" y2="351.3" stroke="#777" stroke-width="1"/>
<line x1="412.0" y1="345.4" x2="412.0" y2="353.4" stroke="#888" stroke-width="1"/>
<line x1="409.9" y1="345.4" x2="414.1" y2="345.4" stroke="#777" stroke-width="1"/>
<line x1="409.9" y1="353.4" x2="414.1" y2="353.4" stroke="#777" stroke-width="1"/>
<line x1="431.4" y1="340.1" x2="431.4" y2="354.1" stroke="#888" stroke-width="1"/>
<line x1="429.3" y1="340.1" x2="433.5" y2="340.1" stroke="#777" stroke-width="1"/>
<line x1="429.3" y1="354.1" x2="433.5" y2="354.1" stroke="#777" stroke-width="1"/>
<line x1="450.8" y1="335.2" x2="450.8" y2="349.8" stroke="#888" stroke-width="1"/>
<line x1="448.7" y1="335.2" x2="452.9" y2="335.2" stroke="#777" stroke-width="1"/>
<line x1="448.7" y1="349.8" x2="452.9" y2="349.8" stroke="#777" stroke-width="1"/>
<line x1="470.2" y1="288.4" x2="470.2" y2="302.4" stroke="#888" stroke-width="1"/>
<line x1="468.1" y1="288.4" x2="472.3" y2="288.4" stroke="#777" stroke-width="1"/>
<line x1="468.1" y1="302.4" x2="472.3" y2="302.4" stroke="#777" stroke-width="1"/>
<line x1="489.6" y1="249.1" x2="489.6" y2="270.3" stroke="#888" stroke-width="1"/>
<line x1="487.5" y1="249.1" x2="491.7" y2="249.1" stroke="#777" stroke-width="1"/>
<line x1="487.5" y1="270.3" x2="491.7" y2="270.3" stroke="#777" stroke-width="1"/>
<line x1="509.0" y1="292.2" x2="509.0" y2="305.2" stroke="#888" stroke-width="1"/>
<line x1="506.9" y1="292.2" x2="511.1" y2="292.2" stroke="#777" stroke-width="1"/>
<line x1="506.9" y1="305.2" x2="511.1" y2="305.2" stroke="#777" stroke-width="1"/>
<polyline points="315.0,347.1 334.4,346.7 353.8,345.2 373.2,349 392.6,347.3 412.0,349.4 431.4,347.1 450.8,342.5 470.2,295.4 489.6,259.7 509.0,298.7" fill="none" stroke="#000" stroke-width="1.2"/>
<circle cx="315.0" cy="347.1" r="2.55" fill="#000" stroke="#000" stroke-width="0.4"/>
<circle cx="334.4" cy="346.7" r="2.55" fill="#000" stroke="#000" stroke-width="0.4"/>
<circle cx="353.8" cy="345.2" r="2.55" fill="#000" stroke="#000" stroke-width="0.4"/>
<circle cx="373.2" cy="349" r="2.55" fill="#000" stroke="#000" stroke-width="0.4"/>
<circle cx="392.6" cy="347.3" r="2.55" fill="#000" stroke="#000" stroke-width="0.4"/>
<circle cx="412.0" cy="349.4" r="2.55" fill="#000" stroke="#000" stroke-width="0.4"/>
<circle cx="431.4" cy="347.1" r="2.55" fill="#000" stroke="#000" stroke-width="0.4"/>
<circle cx="450.8" cy="342.5" r="2.55" fill="#000" stroke="#000" stroke-width="0.4"/>
<circle cx="470.2" cy="295.4" r="2.55" fill="#000" stroke="#000" stroke-width="0.4"/>
<circle cx="489.6" cy="259.7" r="2.55" fill="#000" stroke="#000" stroke-width="0.4"/>
<circle cx="509.0" cy="298.7" r="2.55" fill="#000" stroke="#000" stroke-width="0.4"/>
<polyline points="315.0,347.1 334.4,346.7 353.8,349 373.2,351 392.6,347.2 412.0,343.5 431.4,344 450.8,343.8 470.2,339.8 489.6,336.7 509.0,341.4" fill="none" stroke="#000" stroke-width="2.05" stroke-dasharray="0.01 3.25" stroke-linecap="round"/>
<circle cx="315.0" cy="347.1" r="2.8" fill="#fff" stroke="#000" stroke-width="0.9"/>
<circle cx="334.4" cy="346.7" r="2.8" fill="#fff" stroke="#000" stroke-width="0.9"/>
<circle cx="353.8" cy="349" r="2.8" fill="#fff" stroke="#000" stroke-width="0.9"/>
<circle cx="373.2" cy="351" r="2.8" fill="#fff" stroke="#000" stroke-width="0.9"/>
<circle cx="392.6" cy="347.2" r="2.8" fill="#fff" stroke="#000" stroke-width="0.9"/>
<circle cx="412.0" cy="343.5" r="2.8" fill="#fff" stroke="#000" stroke-width="0.9"/>
<circle cx="431.4" cy="344" r="2.8" fill="#fff" stroke="#000" stroke-width="0.9"/>
<circle cx="450.8" cy="343.8" r="2.8" fill="#fff" stroke="#000" stroke-width="0.9"/>
<circle cx="470.2" cy="339.8" r="2.8" fill="#fff" stroke="#000" stroke-width="0.9"/>
<circle cx="489.6" cy="336.7" r="2.8" fill="#fff" stroke="#000" stroke-width="0.9"/>
<circle cx="509.0" cy="341.4" r="2.8" fill="#fff" stroke="#000" stroke-width="0.9"/>
<circle cx="470.2" cy="278.8" r="1.35" fill="#111"/>
<circle cx="489.5" cy="237.2" r="1.35" fill="#111"/>
<circle cx="509" cy="281.1" r="1.35" fill="#111"/>
<line x1="318.6" y1="243.8" x2="340.4" y2="243.8" stroke="#000" stroke-width="1.2"/>
<circle cx="329.5" cy="243.8" r="2.8" fill="#000"/>
<text x="345.4" y="247.2" class="t">BA</text>
<line x1="319.4" y1="256.1" x2="329.5" y2="256.1" stroke="#000" stroke-width="1.9" stroke-dasharray="0.01 3.35" stroke-linecap="round"/>
<line x1="339.6" y1="256.1" x2="329.5" y2="256.1" stroke="#000" stroke-width="1.9" stroke-dasharray="0.01 3.35" stroke-linecap="round"/>
<circle cx="329.5" cy="256.1" r="2.85" fill="#fff" stroke="#000" stroke-width="0.85"/>
<text x="345.4" y="259.5" class="t">Saline</text>
</svg>
</body></html>
